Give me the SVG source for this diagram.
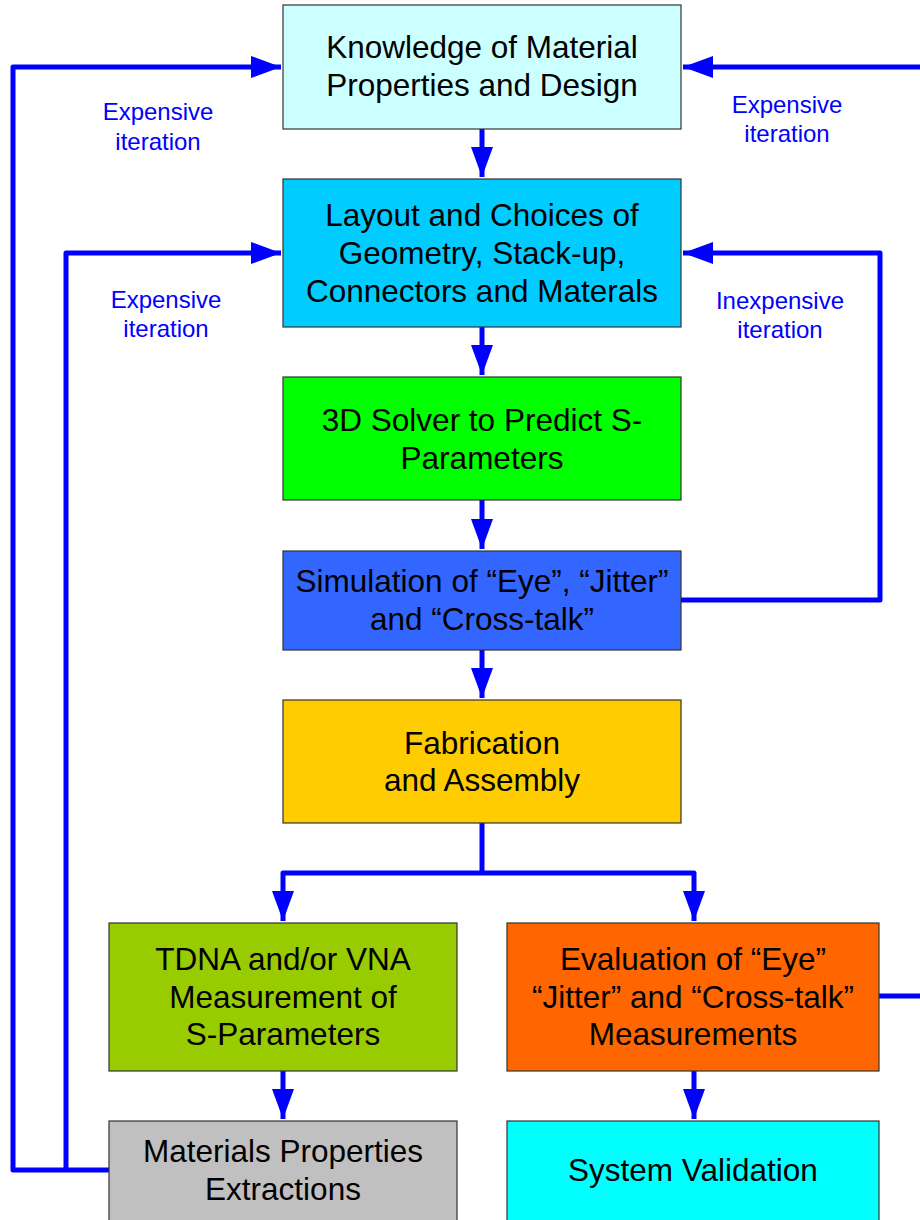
<svg xmlns="http://www.w3.org/2000/svg" width="920" height="1220" viewBox="0 0 920 1220">
<style>
.box{stroke:#333;stroke-width:1.2}
.t{font-family:"Liberation Sans",Arial,sans-serif;font-size:31.5px;fill:#000;text-anchor:middle}
.l{font-family:"Liberation Sans",Arial,sans-serif;font-size:24px;fill:#0000FF;text-anchor:middle}
.c{fill:none;stroke:#0000FF;stroke-width:5;stroke-linejoin:round}
</style>
<defs>
<marker id="ah" markerUnits="userSpaceOnUse" markerWidth="30" markerHeight="22" viewBox="0 0 30 22" refX="30" refY="11" orient="auto">
<path d="M0,0 L30,11 L0,22 Z" fill="#0000FF"/>
</marker>
</defs>
<rect width="920" height="1220" fill="#fff"/>
<g id="connectors">
<path class="c" d="M109,1170 H13 V67 H281" marker-end="url(#ah)"/>
<path class="c" d="M66,1170 V253 H281" marker-end="url(#ah)"/>
<path class="c" d="M920,67 H683" marker-end="url(#ah)"/>
<path class="c" d="M681,600 H880 V253 H683" marker-end="url(#ah)"/>
<path class="c" d="M879,996 H920"/>
<path class="c" d="M482,129 V177" marker-end="url(#ah)"/>
<path class="c" d="M482,327 V375" marker-end="url(#ah)"/>
<path class="c" d="M482,500 V549" marker-end="url(#ah)"/>
<path class="c" d="M482,650 V698" marker-end="url(#ah)"/>
<path class="c" d="M482,823 V873"/>
<path class="c" d="M482,873 H283 V921" marker-end="url(#ah)"/>
<path class="c" d="M482,873 H694 V921" marker-end="url(#ah)"/>
<path class="c" d="M283,1071 V1119" marker-end="url(#ah)"/>
<path class="c" d="M694,1071 V1119" marker-end="url(#ah)"/>
</g>
<g id="labels">
<text class="l" x="158" y="120">Expensive</text>
<text class="l" x="158" y="150">iteration</text>
<text class="l" x="166" y="308">Expensive</text>
<text class="l" x="166" y="337">iteration</text>
<text class="l" x="787" y="113">Expensive</text>
<text class="l" x="787" y="142">iteration</text>
<text class="l" x="780" y="309">Inexpensive</text>
<text class="l" x="780" y="338">iteration</text>
</g>
<g id="n1"><rect class="box" x="283" y="5" width="398" height="124" fill="#CCFFFF"/>
<text class="t" x="482" y="58">Knowledge of Material</text><text class="t" x="482" y="96">Properties and Design</text></g>
<g id="n2"><rect class="box" x="283" y="179" width="398" height="148" fill="#00CCFF"/>
<text class="t" x="482" y="226">Layout and Choices of</text><text class="t" x="482" y="264">Geometry, Stack-up,</text><text class="t" x="482" y="302">Connectors and Materals</text></g>
<g id="n3"><rect class="box" x="283" y="377" width="398" height="123" fill="#00FF00"/>
<text class="t" x="482" y="431">3D Solver to Predict S-</text><text class="t" x="482" y="469">Parameters</text></g>
<g id="n4"><rect class="box" x="283" y="551" width="398" height="99" fill="#3366FF"/>
<text class="t" x="482" y="592">Simulation of “Eye”, “Jitter”</text><text class="t" x="482" y="630">and “Cross-talk”</text></g>
<g id="n5"><rect class="box" x="283" y="700" width="398" height="123" fill="#FFCC00"/>
<text class="t" x="482" y="754">Fabrication</text><text class="t" x="482" y="791">and Assembly</text></g>
<g id="n6"><rect class="box" x="109" y="923" width="348" height="148" fill="#99CC00"/>
<text class="t" x="283" y="970">TDNA and/or VNA</text><text class="t" x="283" y="1008">Measurement of</text><text class="t" x="283" y="1045">S-Parameters</text></g>
<g id="n7"><rect class="box" x="507" y="923" width="372" height="148" fill="#FF6600"/>
<text class="t" x="693" y="970">Evaluation of “Eye”</text><text class="t" x="693" y="1008">“Jitter” and “Cross-talk”</text><text class="t" x="693" y="1045">Measurements</text></g>
<g id="n8"><rect class="box" x="109" y="1121" width="348" height="110" fill="#C0C0C0"/>
<text class="t" x="283" y="1162">Materials Properties</text><text class="t" x="283" y="1200">Extractions</text></g>
<g id="n9"><rect class="box" x="507" y="1121" width="372" height="110" fill="#00FFFF"/>
<text class="t" x="693" y="1181">System Validation</text></g>
</svg>
